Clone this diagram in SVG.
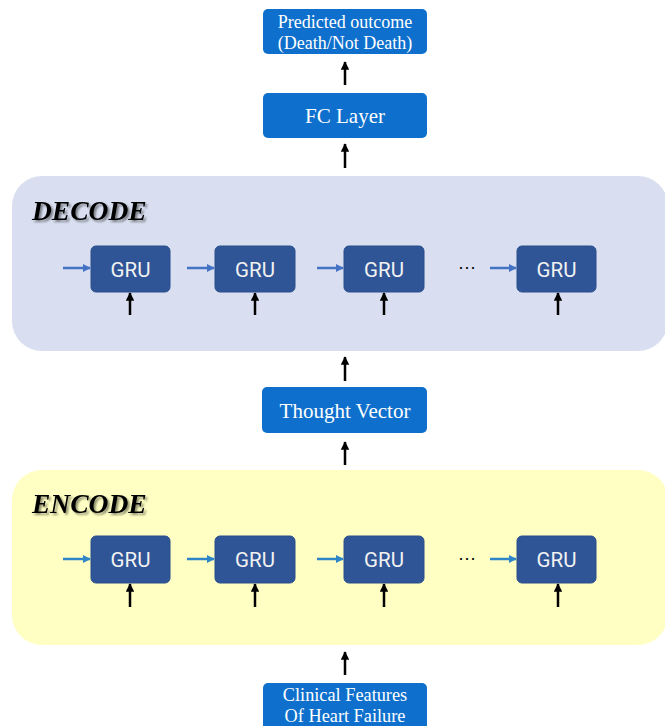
<svg xmlns="http://www.w3.org/2000/svg" width="665" height="726" viewBox="0 0 665 726">
<defs>
<style>
.box{fill:#0E70CC;}
.btxt{font-family:"Liberation Serif","Times New Roman",serif;fill:#ffffff;text-anchor:middle;}
.gru{fill:#2F5597;stroke:#2A4F8C;stroke-width:1;}
.gtxt{font-family:Roboto,"Noto Sans","Liberation Sans",sans-serif;font-size:20.5px;fill:#F2F2F2;text-anchor:middle;}
.title{font-family:"Liberation Serif","Times New Roman",serif;font-weight:bold;font-style:italic;font-size:27.5px;fill:#000;}
.blk{stroke:#000;stroke-width:2.5;fill:none;marker-end:url(#ah);}
.blu{stroke:#4472C4;stroke-width:2.5;fill:none;marker-end:url(#bh);}
.blu2{stroke:#2E86C8;stroke-width:2.5;fill:none;marker-end:url(#bh2);}
.dots{font-family:"Liberation Sans",sans-serif;font-size:18px;fill:#000;}
</style>
<marker id="ah" viewBox="0 0 10 10" refX="9" refY="5" markerWidth="3.4" markerHeight="3.4" orient="auto"><path d="M0,0 L10,5 L0,10 z" fill="#000"/></marker>
<marker id="bh" viewBox="0 0 10 10" refX="9" refY="5" markerWidth="3.2" markerHeight="3.2" orient="auto"><path d="M0,0 L10,5 L0,10 z" fill="#4472C4"/></marker>
<marker id="bh2" viewBox="0 0 10 10" refX="9" refY="5" markerWidth="3.2" markerHeight="3.2" orient="auto"><path d="M0,0 L10,5 L0,10 z" fill="#2E86C8"/></marker>
<filter id="sh" x="-10%" y="-20%" width="130%" height="150%"><feGaussianBlur in="SourceAlpha" stdDeviation="1"/><feOffset dx="2" dy="2" result="o"/><feComponentTransfer><feFuncA type="linear" slope="0.45"/></feComponentTransfer><feMerge><feMergeNode/><feMergeNode in="SourceGraphic"/></feMerge></filter>
</defs>
<rect width="665" height="726" fill="#ffffff"/>

<g id="decode-panel">
<rect x="12" y="176" width="656" height="175" rx="30" fill="#D9DFF0"/>
<text class="title" x="32" y="220" filter="url(#sh)">DECODE</text>
</g>
<g id="encode-panel">
<rect x="12" y="470" width="656" height="175" rx="30" fill="#FFFFC4"/>
<text class="title" x="32" y="513" filter="url(#sh)">ENCODE</text>
</g>

<g id="predicted">
<rect class="box" x="263" y="9" width="164" height="45" rx="5"/>
<text class="btxt" x="345" y="28" font-size="18">Predicted outcome</text>
<text class="btxt" x="345" y="49" font-size="18">(Death/Not Death)</text>
</g>
<g id="fc">
<rect class="box" x="263" y="93" width="164" height="45" rx="5"/>
<text class="btxt" x="345" y="123" font-size="21">FC Layer</text>
</g>
<g id="thought">
<rect class="box" x="262" y="387" width="165" height="46" rx="5"/>
<text class="btxt" x="345" y="418" font-size="21">Thought Vector</text>
</g>
<g id="clinical">
<rect class="box" x="263" y="683" width="164" height="50" rx="5"/>
<text class="btxt" x="345" y="701" font-size="18.3">Clinical Features</text>
<text class="btxt" x="345" y="722" font-size="18.3">Of Heart Failure</text>
</g>

<g id="dec-gru1"><rect class="gru" x="91" y="246" width="79" height="46" rx="5"/><text class="gtxt" x="130.5" y="276.5">GRU</text></g>
<g id="dec-gru2"><rect class="gru" x="215" y="246" width="80" height="46" rx="5"/><text class="gtxt" x="255" y="276.5">GRU</text></g>
<g id="dec-gru3"><rect class="gru" x="344" y="246" width="80" height="46" rx="5"/><text class="gtxt" x="384" y="276.5">GRU</text></g>
<g id="dec-gru4"><rect class="gru" x="517" y="246" width="79" height="46" rx="5"/><text class="gtxt" x="556.5" y="276.5">GRU</text></g>
<g id="dec-dots"><text class="dots" x="458" y="273">···</text></g>

<g id="enc-gru1"><rect class="gru" x="91" y="536" width="79" height="47" rx="5"/><text class="gtxt" x="130.5" y="567">GRU</text></g>
<g id="enc-gru2"><rect class="gru" x="215" y="536" width="80" height="47" rx="5"/><text class="gtxt" x="255" y="567">GRU</text></g>
<g id="enc-gru3"><rect class="gru" x="344" y="536" width="80" height="47" rx="5"/><text class="gtxt" x="384" y="567">GRU</text></g>
<g id="enc-gru4"><rect class="gru" x="517" y="536" width="79" height="47" rx="5"/><text class="gtxt" x="556.5" y="567">GRU</text></g>
<g id="enc-dots"><text class="dots" x="458" y="564">···</text></g>

<g id="connectors">
<line class="blk" x1="345" y1="85" x2="345" y2="62"/>
<line class="blk" x1="345" y1="168" x2="345" y2="144"/>
<line class="blk" x1="345" y1="381" x2="345" y2="357"/>
<line class="blk" x1="345" y1="465" x2="345" y2="442"/>
<line class="blk" x1="345" y1="675" x2="345" y2="652"/>

<line class="blu" x1="63" y1="268" x2="90" y2="268"/>
<line class="blu" x1="187" y1="268" x2="214" y2="268"/>
<line class="blu" x1="317" y1="268" x2="343" y2="268"/>
<line class="blu" x1="490" y1="268" x2="516" y2="268"/>
<line class="blk" x1="130" y1="315" x2="130" y2="293"/>
<line class="blk" x1="255" y1="315" x2="255" y2="293"/>
<line class="blk" x1="384" y1="315" x2="384" y2="293"/>
<line class="blk" x1="558" y1="315" x2="558" y2="293"/>

<line class="blu2" x1="63" y1="559" x2="90" y2="559"/>
<line class="blu2" x1="187" y1="559" x2="214" y2="559"/>
<line class="blu2" x1="317" y1="559" x2="343" y2="559"/>
<line class="blu2" x1="490" y1="559" x2="516" y2="559"/>
<line class="blk" x1="130" y1="607" x2="130" y2="584"/>
<line class="blk" x1="255" y1="607" x2="255" y2="584"/>
<line class="blk" x1="384" y1="607" x2="384" y2="584"/>
<line class="blk" x1="558" y1="607" x2="558" y2="584"/>
</g>
</svg>
